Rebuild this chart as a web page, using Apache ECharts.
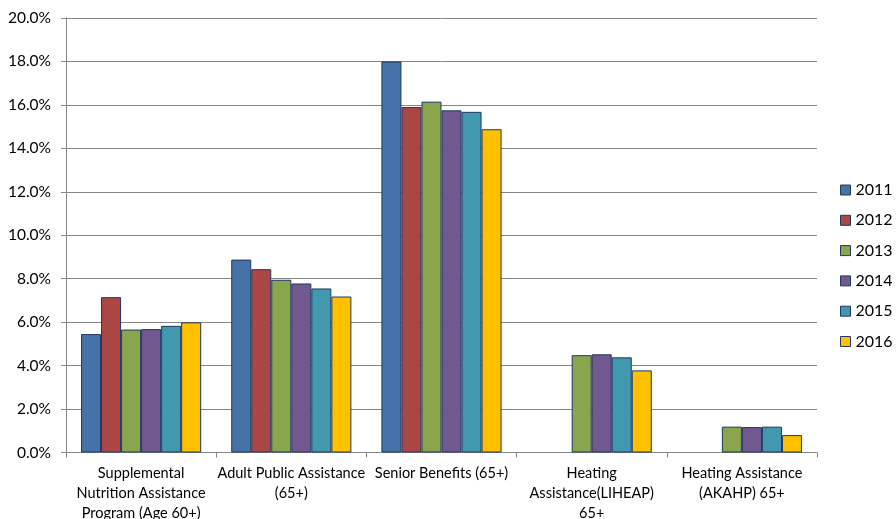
<!DOCTYPE html>
<html>
<head>
<meta charset="utf-8">
<script src="https://cdn.jsdelivr.net/npm/echarts@6/dist/echarts.min.js"></script>
<style>html,body{margin:0;padding:0;background:#fff}#c{width:896px;height:519px}</style>
</head>
<body>
<div id="c"></div>
<script>
const categories = [
  "Supplemental\nNutrition Assistance\nProgram (Age 60+)",
  "Adult Public Assistance\n(65+)",
  "Senior Benefits (65+)",
  "Heating\nAssistance(LIHEAP)\n65+",
  "Heating Assistance\n(AKAHP) 65+"
];
const years = ["2011", "2012", "2013", "2014", "2015", "2016"];
const v2011 = [5.45, 8.88, 18.0, null, null];
const v2012 = [7.15, 8.44, 15.9, null, null];
const v2013 = [5.66, 7.95, 16.15, 4.48, 1.19];
const v2014 = [5.68, 7.78, 15.75, 4.52, 1.17];
const v2015 = [5.83, 7.55, 15.68, 4.38, 1.19];
const v2016 = [5.99, 7.18, 14.88, 3.78, 0.80];
const yTicks = [0, 2, 4, 6, 8, 10, 12, 14, 16, 18, 20];
const colors = ["#4572a7", "#aa4643", "#89a54e", "#71588f", "#4198af", "#ffc000"];

const seriesValues = [v2011, v2012, v2013, v2014, v2015, v2016];
const chart = echarts.init(document.getElementById('c'));
chart.setOption({
  animation: false,
  color: colors,
  grid: { left: 66, right: 79, top: 18, bottom: 66.5, containLabel: false, outerBoundsMode: 'none' },
  legend: {
    orient: 'vertical',
    left: 840,
    top: 182,
    padding: 0,
    itemWidth: 10,
    itemHeight: 10,
    itemGap: 14.3,
    icon: 'rect',
    itemStyle: { borderColor: '#1f3864', borderWidth: 1 },
    textStyle: { fontFamily: 'Lato', fontSize: 16, color: '#000' },
    data: years
  },
  xAxis: {
    type: 'category',
    data: categories,
    axisLine: { lineStyle: { color: '#868686' } },
    axisTick: { show: true, length: 5, lineStyle: { color: '#868686' } },
    axisLabel: { fontFamily: 'Lato', fontSize: 14.5, color: '#000', lineHeight: 20, margin: 11, interval: 0 }
  },
  yAxis: {
    type: 'value',
    min: yTicks[0],
    max: yTicks[yTicks.length - 1],
    interval: 2,
    axisLine: { show: true, lineStyle: { color: '#868686' } },
    axisTick: { show: true, length: 5, lineStyle: { color: '#868686' } },
    splitLine: { lineStyle: { color: '#868686', width: 1 } },
    axisLabel: { fontFamily: 'Lato', fontSize: 15.5, color: '#000', margin: 15,
      formatter: v => v.toFixed(1) + '%' }
  },
  series: years.map((y, i) => ({
    name: y,
    type: 'bar',
    data: seriesValues[i],
    barGap: '0%',
    barCategoryGap: '20%',
    itemStyle: { borderColor: '#1f3864', borderWidth: 1 }
  }))
});
</script>
</body>
</html>
